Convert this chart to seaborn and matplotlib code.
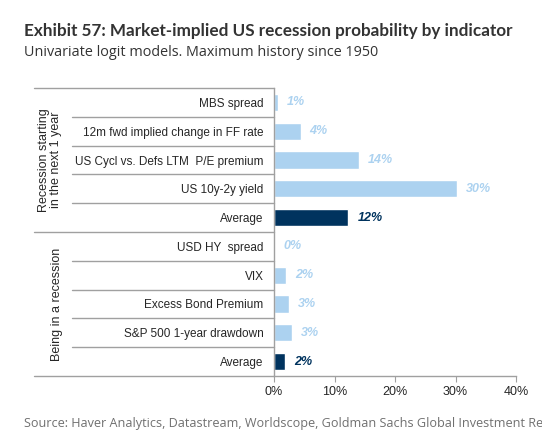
import numpy as np
import pandas as pd
import matplotlib
matplotlib.use("Agg")
import matplotlib.pyplot as plt
import matplotlib.transforms as mtransforms
import seaborn as sns

sns.set_style("white")
plt.rcParams['font.family'] = ['Liberation Sans', 'DejaVu Sans']

# data
labels = ["MBS spread", "12m fwd implied change in FF rate", "US Cycl vs. Defs LTM  P/E premium",
          "US 10y-2y yield", "Average",
          "USD HY  spread", "VIX", "Excess Bond Premium", "S&P 500 1-year drawdown", "Average"]
values = [0.7, 4.4, 14.0, 30.2, 12.3, 0.05, 2.0, 2.5, 2.9, 1.9]
value_text = ["1%", "4%", "14%", "30%", "12%", "0%", "2%", "3%", "3%", "2%"]
kinds = ["ind", "ind", "ind", "ind", "avg", "ind", "ind", "ind", "ind", "avg"]
groups = ["Recession starting\nin the next 1 year", "Being in a recession"]
group_rows = [(0, 4), (5, 9)]
xticks = [0, 10, 20, 30, 40]

light = "#acd2f0"
dark = "#00335e"

df = pd.DataFrame({"row": [f"r{i}" for i in range(len(labels))],
                   "value": values, "kind": kinds})

fig = plt.figure(figsize=(5.42, 4.40), dpi=100)
ax = fig.add_axes([274 / 542, 1 - 376 / 440, 242 / 542, 288 / 440])

sns.barplot(data=df, y="row", x="value", hue="kind", orient="h",
            palette={"ind": light, "avg": dark}, dodge=False, width=0.6,
            legend=False, ax=ax, saturation=1)

ax.set_xlim(0, 40)
ax.set_ylim(9.5, -0.5)
ax.set_xticks(xticks)
ax.set_xticklabels([f"{t}%" for t in xticks], fontsize=9)
ax.set_yticks(range(len(labels)))
ax.set_yticklabels(labels, fontsize=8.5)
ax.set_xlabel("")
ax.set_ylabel("")
ax.tick_params(axis="y", length=0, pad=7.5)
ax.tick_params(axis="x", length=4, color="#a0a0a0", width=0.8, pad=3, direction="out")
ax.xaxis.set_ticks_position("bottom")

for s in ["top", "right"]:
    ax.spines[s].set_visible(False)
for s in ["left", "bottom"]:
    ax.spines[s].set_color("#a0a0a0")
    ax.spines[s].set_linewidth(1)

for i, (v, t, k) in enumerate(zip(values, value_text, kinds)):
    ax.annotate(t, (v, i), xytext=(6.5, 0), textcoords="offset points",
                ha="left", va="center", fontsize=9, fontweight="bold", fontstyle="italic",
                color=dark if k == "avg" else light, annotation_clip=False)

# table lines on the left
tr = mtransforms.blended_transform_factory(fig.transFigure, ax.transData)
x_axis = 274 / 542
for i in range(len(labels) + 1):
    y = i - 0.5
    start = 34 / 542 if i in (0, 5, 10) else 72 / 542
    ax.plot([start, x_axis], [y, y], transform=tr, color="#a0a0a0", lw=1, clip_on=False)

for g, (a, b) in zip(groups, group_rows):
    xpos = 50 / 542 if "\n" in g else 57 / 542
    ax.text(xpos, (a + b) / 2, g, transform=tr, rotation=90, ha="center", va="center",
            fontsize=9, linespacing=1.05)

fig.text(24 / 542, 1 - 31 / 440, "Exhibit 57: Market-implied US recession probability by indicator",
         fontsize=12.3, fontweight="bold", color="#333333", family=["Lato", "DejaVu Sans"],
         va="center")
fig.text(24 / 542, 1 - 52 / 440, "Univariate logit models. Maximum history since 1950",
         fontsize=10.4, color="#333333", family=["Open Sans", "DejaVu Sans"], va="center")
fig.text(24 / 542, 1 - 423 / 440,
         "Source: Haver Analytics, Datastream, Worldscope, Goldman Sachs Global Investment Research",
         fontsize=9.1, color="#707070", family=["Open Sans", "DejaVu Sans"], va="center")

fig.savefig("out.png", dpi=100)
